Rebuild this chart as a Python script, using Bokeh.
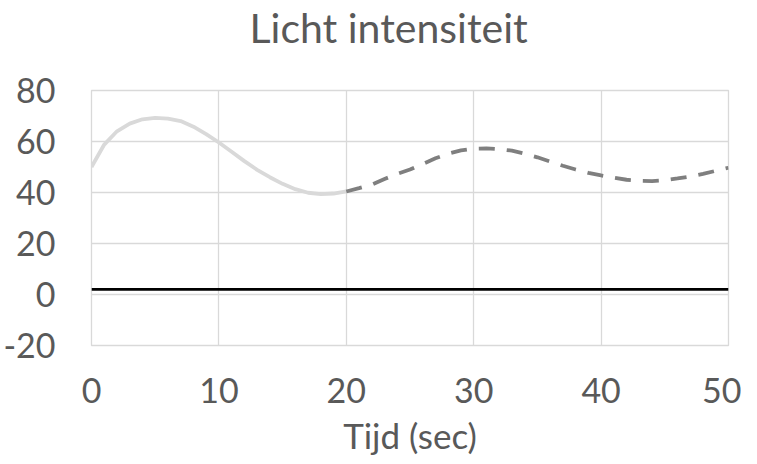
from bokeh.plotting import figure
from bokeh.embed import file_html
from bokeh.resources import INLINE
from bokeh.models import FixedTicker, Range1d, LinearAxis

# ---- data ----
title_text = "Licht intensiteit"
x_label = "Tijd (sec)"

measured_t = [0, 1, 2, 3, 4, 5, 6, 7, 8, 9, 10, 11, 12, 13, 14, 15, 16, 17, 18, 19, 20]
measured_v = [50.0, 58.8, 64.0, 67.0, 68.7, 69.3, 69.0, 68.0, 65.8, 62.9, 59.6,
              56.0, 52.3, 48.9, 46.0, 43.4, 41.3, 39.9, 39.4, 39.6, 40.4]

predicted_t = [20, 21, 22, 23, 24, 25, 26, 27, 28, 29, 30, 31, 32, 33, 34, 35,
               36, 37, 38, 39, 40, 41, 42, 43, 44, 45, 46, 47, 48, 49, 50]
predicted_v = [40.4, 41.7, 43.1, 45.3, 47.3, 49.0, 51.2, 53.4, 55.2, 56.5, 57.2,
               57.3, 57.0, 56.4, 55.2, 53.8, 52.1, 50.5, 49.0, 47.7, 46.7, 45.8,
               45.0, 44.6, 44.5, 44.8, 45.5, 46.3, 47.3, 48.5, 49.7]

base_t = [0, 50]
base_v = [2, 2]

x_ticks = [0, 10, 20, 30, 40, 50]
y_ticks = [-20, 0, 20, 40, 60, 80]
y_tick_labels = {-20: "-20", 0: "0", 20: "20", 40: "40", 60: "60", 80: "80"}

TEXT = "#595959"
GRID = "#d9d9d9"
FONT = "Lato"

p = figure(width=741, height=462, output_backend="svg", toolbar_location=None,
           x_range=Range1d(0, 50), y_range=Range1d(-20, 80),
           min_border_left=84, min_border_right=13, min_border_top=89,
           min_border_bottom=117, background_fill_color="white",
           border_fill_color="white")

xax = p.below[0]
yax = p.left[0]

# invisible spacer between plot area and title (keeps title near the top)
spacer = LinearAxis(ticker=FixedTicker(ticks=[25]), axis_line_color=None,
                    major_tick_line_color=None, minor_tick_line_color=None,
                    major_tick_in=0, major_tick_out=39, minor_tick_out=0,
                    major_label_standoff=0, major_label_overrides={25: ""},
                    major_label_text_font_size="1px")
p.add_layout(spacer, "above")

p.title.text = title_text
p.title.align = "left"
p.title.offset = 158
p.title.vertical_align = "bottom"
p.title.standoff = 0
p.title.text_font = FONT
p.title.text_font_size = "41px"
p.title.text_font_style = "normal"
p.title.text_color = TEXT

p.outline_line_color = GRID
p.outline_line_width = 1.3

xax.ticker = FixedTicker(ticks=x_ticks)
yax.ticker = FixedTicker(ticks=y_ticks)
yax.major_label_overrides = y_tick_labels
for ax in (xax, yax):
    ax.axis_line_color = None
    ax.major_tick_line_color = None
    ax.minor_tick_line_color = None
    ax.major_label_text_font = FONT
    ax.major_label_text_font_size = "34px"
    ax.major_label_text_color = TEXT
yax.major_label_standoff = 30
xax.major_label_standoff = 26
xax.axis_label = x_label
xax.axis_label_text_font = FONT
xax.axis_label_text_font_size = "35px"
xax.axis_label_text_font_style = "normal"
xax.axis_label_text_color = TEXT
xax.axis_label_standoff = 8

p.xgrid.grid_line_color = GRID
p.ygrid.grid_line_color = GRID
p.xgrid.grid_line_width = 1.3
p.ygrid.grid_line_width = 1.3

p.line(measured_t, measured_v, line_color="#d9d9d9", line_width=3.8)
p.line(predicted_t, predicted_v, line_color="#7f7f7f", line_width=3.8,
       line_dash="16 12")
p.line(base_t, base_v, line_color="black", line_width=2.6)

open("out.html", "w").write(file_html(p, INLINE))
